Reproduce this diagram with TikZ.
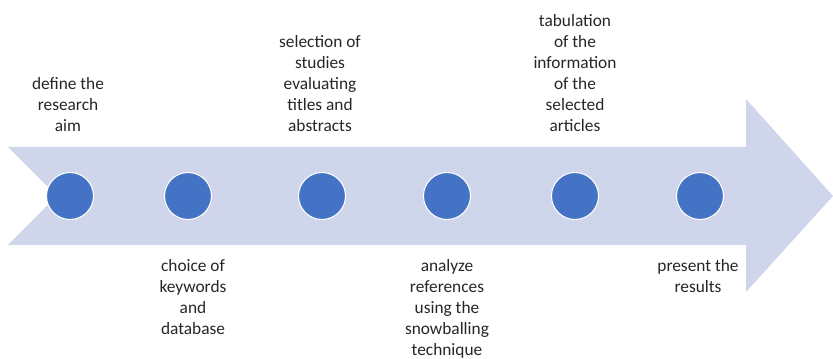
\documentclass[tikz,border=0pt]{standalone}
\usepackage{fontspec}
\setmainfont{Carlito}
\definecolor{arrowfill}{HTML}{CFD5EA}
\definecolor{dotfill}{HTML}{4472C4}
\definecolor{txt}{HTML}{262626}
\begin{document}
\begin{tikzpicture}[x=0.75pt,y=-0.75pt,
  dot/.style={circle,fill=dotfill,draw=white,line width=0.8pt,minimum size=47*0.75pt,inner sep=0},
  up/.style={anchor=south,align=center,inner sep=0,text=txt,font=\fontsize{13}{15.75}\selectfont},
  down/.style={anchor=north,align=center,inner sep=0,text=txt,font=\fontsize{13}{15.75}\selectfont}]
\useasboundingbox (0,0) rectangle (833,359);
\fill[arrowfill] (8,147) -- (746,147) -- (746,99) -- (833,196) -- (746,292) -- (746,245) -- (8,245) -- (57,196) -- cycle;
\node[dot] (d1) at (70,196) {};
\node[dot] (d2) at (188,196) {};
\node[dot] (d3) at (322,196) {};
\node[dot] (d4) at (447,196) {};
\node[dot] (d5) at (575,196) {};
\node[dot] (d6) at (700,196) {};
\node[up] (t1) at (68,132) {define the\\research\\aim};
\node[up] (t3) at (320,132) {selection of\\studies\\evaluating\\titles and\\abstracts};
\node[up] (t5) at (575,132) {tabulation\\of the\\information\\of the\\selected\\articles};
\node[down] (t2) at (193,259) {choice of\\keywords\\and\\database};
\node[down] (t4) at (447,259) {analyze\\references\\using the\\snowballing\\technique};
\node[down] (t6) at (698,259) {present the\\results};
\end{tikzpicture}
\end{document}
